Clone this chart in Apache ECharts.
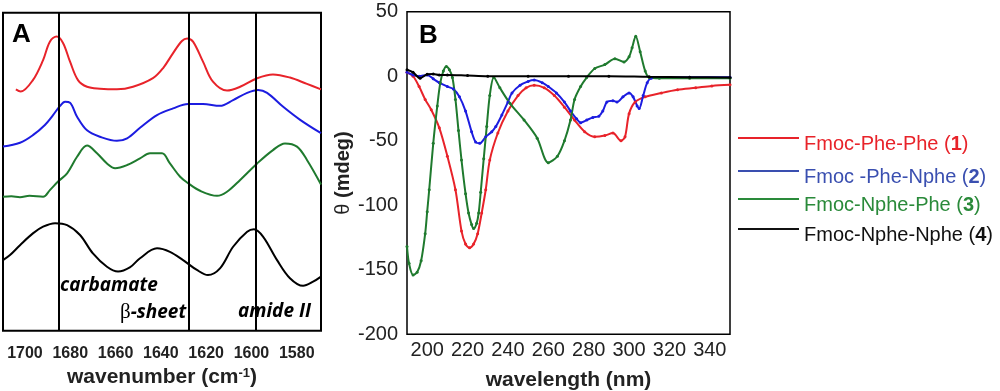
<!DOCTYPE html>
<html>
<head>
<meta charset="utf-8">
<script src="https://cdn.jsdelivr.net/npm/echarts@6/dist/echarts.min.js"></script>
<style>html,body{margin:0;padding:0;background:#fff}#c{width:1000px;height:391px}</style>
</head>
<body>
<div id="c"></div>
<script>
// ---------- Panel A: FTIR (wavenumber, offset absorbance, arbitrary units) ----------
const irTicks = [1700, 1680, 1660, 1640, 1620, 1600, 1580];
const irMarkers = [1685.3, 1627.9, 1598];
const irPhePhe = [[1704,75.9],[1701.9,75.2],[1696.5,78.8],[1692,85.1],[1689,90.9],[1686,92.5],[1683.2,90.5],[1680.1,84.6],[1676.6,78.8],[1672.6,76.7],[1666.9,76.1],[1659.4,75.9],[1652.3,76.7],[1643.5,79.4],[1639,82.6],[1634.6,87.3],[1630.7,91.1],[1628.4,91.9],[1625.8,90.9],[1621.4,84.6],[1617,78.3],[1610.8,75.5],[1605,76.7],[1597.5,79.4],[1590.5,80.6],[1583,79.6],[1575.5,77.6],[1569.3,75.9]];
const irPheNphe = [[1709.7,57.9],[1702.2,59.1],[1696.5,61.5],[1691.2,64.7],[1687.6,67.8],[1684.5,70.7],[1682.3,72.0],[1680.1,71.7],[1677,67.3],[1672.6,63.0],[1666.9,61.0],[1659.4,59.7],[1654.9,60.5],[1649.2,63.8],[1641.7,67.8],[1634.6,69.9],[1628,71.3],[1621.4,71.3],[1613.9,70.7],[1608.1,72.5],[1601.9,74.8],[1597.1,75.7],[1593.1,74.8],[1586,70.4],[1578.5,66.3],[1569.3,62.1]];
const irNphePhe = [[1709.7,42.1],[1706,42.3],[1702.2,42.0],[1698,42.4],[1692,42.1],[1689,44.2],[1685.4,46.9],[1681.4,49.5],[1677,54.7],[1672.6,58.2],[1668.2,55.8],[1663.8,52.6],[1660.2,51.1],[1654.9,52.1],[1649.2,54.2],[1644.8,55.8],[1639.5,55.8],[1636,52.6],[1631.5,48.4],[1628,46.4],[1622.7,44.0],[1615.2,42.4],[1610.8,43.7],[1605,47.4],[1597.5,52.6],[1590.5,56.8],[1585.2,58.9],[1579.9,57.9],[1575.5,53.7],[1569.3,46.0]];
const irNpheNphe = [[1709.7,22.2],[1706.6,23.8],[1702.2,26.9],[1696.5,30.6],[1692,32.7],[1686.7,33.8],[1681.4,33.2],[1675.7,30.1],[1670,24.3],[1663.8,20.1],[1658.9,18.6],[1653.7,19.9],[1649.2,22.8],[1641.7,25.9],[1636,24.8],[1630.2,22.2],[1624.1,19.1],[1619.2,17.5],[1613.9,19.6],[1608.1,26.4],[1601.9,31.1],[1598.9,31.9],[1594.9,29.6],[1588.7,22.2],[1583,16.5],[1577.2,14.1],[1572.8,15.4],[1569.3,17.0]];

// ---------- Panel B: CD (wavelength nm, theta mdeg) ----------
const cdTicks = [200, 220, 240, 260, 280, 300, 320, 340];
const cdPhePhe = [[190,3],[193,0],[196,-8],[199,-18],[202,-26],[206,-40],[210,-62],[214,-88],[217,-120],[219,-130],[221,-133],[223,-130],[225,-122],[227,-106],[229,-88],[231,-65],[235,-44],[240,-27],[245,-15],[249,-9],[253,-7],[258,-9],[263,-15],[268,-24],[273,-34],[278,-43],[283,-47],[288,-46],[292,-44],[296,-50],[298,-47],[300,-29],[303,-20],[308,-16],[316,-13],[324,-10.5],[333,-9],[341,-7.5],[350,-6.7]];
const cdPheNphe = [[190,3],[193,1],[196,0],[200,1],[203,-2],[206,-5],[210,-8],[213,-10],[216,-16],[219,-27],[222,-43],[224,-51],[226,-52],[229,-47],[232,-43],[234,-39],[237,-30],[240,-20],[242,-13],[246,-7],[250,-4],[253,-3],[257,-5],[260,-8],[264,-13],[268,-20],[271,-27],[274,-33],[276,-36],[279,-34],[282,-32],[285,-31],[287,-27],[289,-20],[292,-19],[294,-20],[297,-16],[300,-13],[302,-16],[304,-23],[305,-25],[307,-15],[309,-5],[311,-1.5],[315,-1],[330,-0.8],[350,-0.8]];
const cdNphePhe = [[190,-132],[191,-145],[193,-154],[195,-152],[197,-143],[199,-122],[200,-105],[201,-88],[203,-52],[205,-23],[206.5,-5],[208,4],[209.5,7.5],[211,5],[212.5,-1],[214,-18],[215.5,-42],[217,-65],[219,-91],[220.5,-106],[222,-115],[223,-118],[224.5,-114],[225.5,-106],[226.5,-90],[228,-64],[229.5,-39],[231,-15],[233,-1],[236,-9],[241,-21],[248,-34],[254.5,-48],[260,-67],[264.5,-62],[268,-50],[271,-34],[273,-18],[276,-8],[279,-1],[283,6],[288,9],[293,13.5],[297.5,11],[300,15],[301.5,22],[303.3,31],[305.5,19],[308,4],[310,-1],[315,-1.5],[330,-1.5],[350,-1.5]];
const cdNpheNphe = [[190,5],[193,3],[196.5,-1.5],[200,1.5],[203,1.8],[206,1],[210,1],[220,0.5],[230,0],[250,0],[270,0],[290,0],[310,-0.5],[330,-0.8],[350,-1]];

const names = ['Fmoc-Phe-Phe', 'Fmoc -Phe-Nphe', 'Fmoc-Nphe-Phe', 'Fmoc-Nphe-Nphe'];
const numbers = ['1', '2', '3', '4'];
const lineColors = ['#e8232a', '#1c1ce0', '#1f7a2e', '#000000'];
const textColors = ['#e8232a', '#3a4fb0', '#2a8a3a', '#111111'];

const FONT = 'Liberation Sans, Arial, sans-serif';
const chart = echarts.init(document.getElementById('c'), null, {renderer: 'canvas'});

const irSets = [irPhePhe, irPheNphe, irNphePhe, irNpheNphe];
const cdSets = [cdPhePhe, cdPheNphe, cdNphePhe, cdNpheNphe];

const series = [];
irSets.forEach((d, i) => {
  const s = {
    name: names[i], type: 'line', xAxisIndex: 0, yAxisIndex: 0, data: d,
    smooth: 0.35, showSymbol: false, lineStyle: {color: lineColors[i], width: 2},
    itemStyle: {color: lineColors[i]}, z: 3
  };
  if (i === 0) {
    s.markLine = {
      silent: true, symbol: 'none', label: {show: false},
      lineStyle: {color: '#000', width: 2, type: 'solid'},
      data: irMarkers.map(v => ({xAxis: v}))
    };
  }
  series.push(s);
});
cdSets.forEach((d, i) => {
  series.push({
    name: names[i], type: 'line', xAxisIndex: 1, yAxisIndex: 1, data: d,
    smooth: 0.3, showSymbol: true, symbol: 'circle', symbolSize: 3,
    lineStyle: {color: lineColors[i], width: 2}, itemStyle: {color: lineColors[i]},
    z: i === 3 ? 5 : 3
  });
});

const legendTops = [134, 167, 195, 225];
const legends = names.map((n, i) => ({
  data: [{name: n, itemStyle: {color: textColors[i]}}],
  left: 738, top: legendTops[i], orient: 'vertical', padding: 0,
  icon: 'rect', itemWidth: 61, itemHeight: 2, itemGap: 2,
  selectedMode: false,
  formatter: name => '{n|' + name + ' (}{b|' + numbers[i] + '}{n|)}',
  textStyle: {
    fontFamily: FONT, fontSize: 20, color: textColors[i], padding: [12, 0, 0, 0],
    rich: {
      n: {fontFamily: FONT, fontSize: 20, color: textColors[i]},
      b: {fontWeight: 'bold', fontSize: 20, fontFamily: FONT, color: textColors[i]}
    }
  }
}));

const option = {
  animation: false,
  backgroundColor: '#fff',
  legend: legends,
  grid: [
    {left: 3, top: 12.7, width: 318, height: 318, show: true, borderColor: '#000', borderWidth: 2, containLabel: false, outerBoundsMode: 'none'},
    {left: 407, top: 11.7, width: 323, height: 322.6, show: true, borderColor: '#000', borderWidth: 1.5, containLabel: false, outerBoundsMode: 'none'}
  ],
  xAxis: [
    {
      gridIndex: 0, type: 'value', inverse: true, min: 1569.3, max: 1709.7,
      axisLine: {show: false}, axisTick: {show: false}, splitLine: {show: false},
      axisLabel: {customValues: irTicks, formatter: v => String(v), fontFamily: FONT, fontSize: 16, fontWeight: 'bold', color: '#222', margin: 15},
      name: 'wavenumber (cm{s|-1})', nameLocation: 'middle', nameGap: 36,
      nameTextStyle: {fontFamily: FONT, fontSize: 21, fontWeight: 'bold', color: '#222',
        rich: {s: {fontFamily: FONT, fontSize: 13, fontWeight: 'bold', color: '#222', verticalAlign: 'top', padding: [0,0,8,0]}}}
    },
    {
      gridIndex: 1, type: 'value', min: 190, max: 350,
      axisLine: {show: false}, axisTick: {show: false}, splitLine: {show: false},
      axisLabel: {customValues: cdTicks, formatter: v => String(v), fontFamily: FONT, fontSize: 20, color: '#222', margin: 6},
      name: 'wavelength (nm)', nameLocation: 'middle', nameGap: 35,
      nameTextStyle: {fontFamily: FONT, fontSize: 21, fontWeight: 'bold', color: '#222'}
    }
  ],
  yAxis: [
    {gridIndex: 0, type: 'value', min: 0, max: 100, show: false, splitLine: {show: false}},
    {
      gridIndex: 1, type: 'value', min: -200, max: 50, interval: 50,
      axisLine: {show: false}, axisTick: {show: false}, splitLine: {show: false},
      axisLabel: {fontFamily: FONT, fontSize: 20, color: '#222', margin: 9},
      name: '{t|θ} (mdeg)', nameLocation: 'middle', nameGap: 54, nameRotate: 90,
      nameTextStyle: {fontFamily: FONT, fontSize: 20, fontWeight: 'bold', color: '#222',
        rich: {t: {fontFamily: FONT, fontSize: 20, fontWeight: 'normal', color: '#222'}}}
    }
  ],
  graphic: [
    {type: 'text', left: 12, top: 22, style: {text: 'A', fontFamily: FONT, fontSize: 26, fontWeight: 'bold', fill: '#000'}},
    {type: 'text', left: 419, top: 23, style: {text: 'B', fontFamily: FONT, fontSize: 26, fontWeight: 'bold', fill: '#000'}},
    {type: 'text', left: 60, top: 276, style: {text: 'carbamate', fontFamily: 'Open Sans, sans-serif', fontSize: 19, fontWeight: 'bold', fontStyle: 'italic', fill: '#000'}},
    {type: 'text', left: 120, top: 302, style: {text: '{g|β}-sheet', fontFamily: 'Open Sans, sans-serif', fontSize: 19, fontWeight: 'bold', fontStyle: 'italic', fill: '#000',
      rich: {g: {fontFamily: 'Liberation Serif, serif', fontSize: 21, fontWeight: 'normal', fontStyle: 'normal', fill: '#000'}}}},
    {type: 'text', left: 238, top: 302, style: {text: 'amide II', fontFamily: 'Open Sans, sans-serif', fontSize: 19, fontWeight: 'bold', fontStyle: 'italic', fill: '#000'}}
  ],
  series: series
};
chart.setOption(option);
</script>
</body>
</html>
